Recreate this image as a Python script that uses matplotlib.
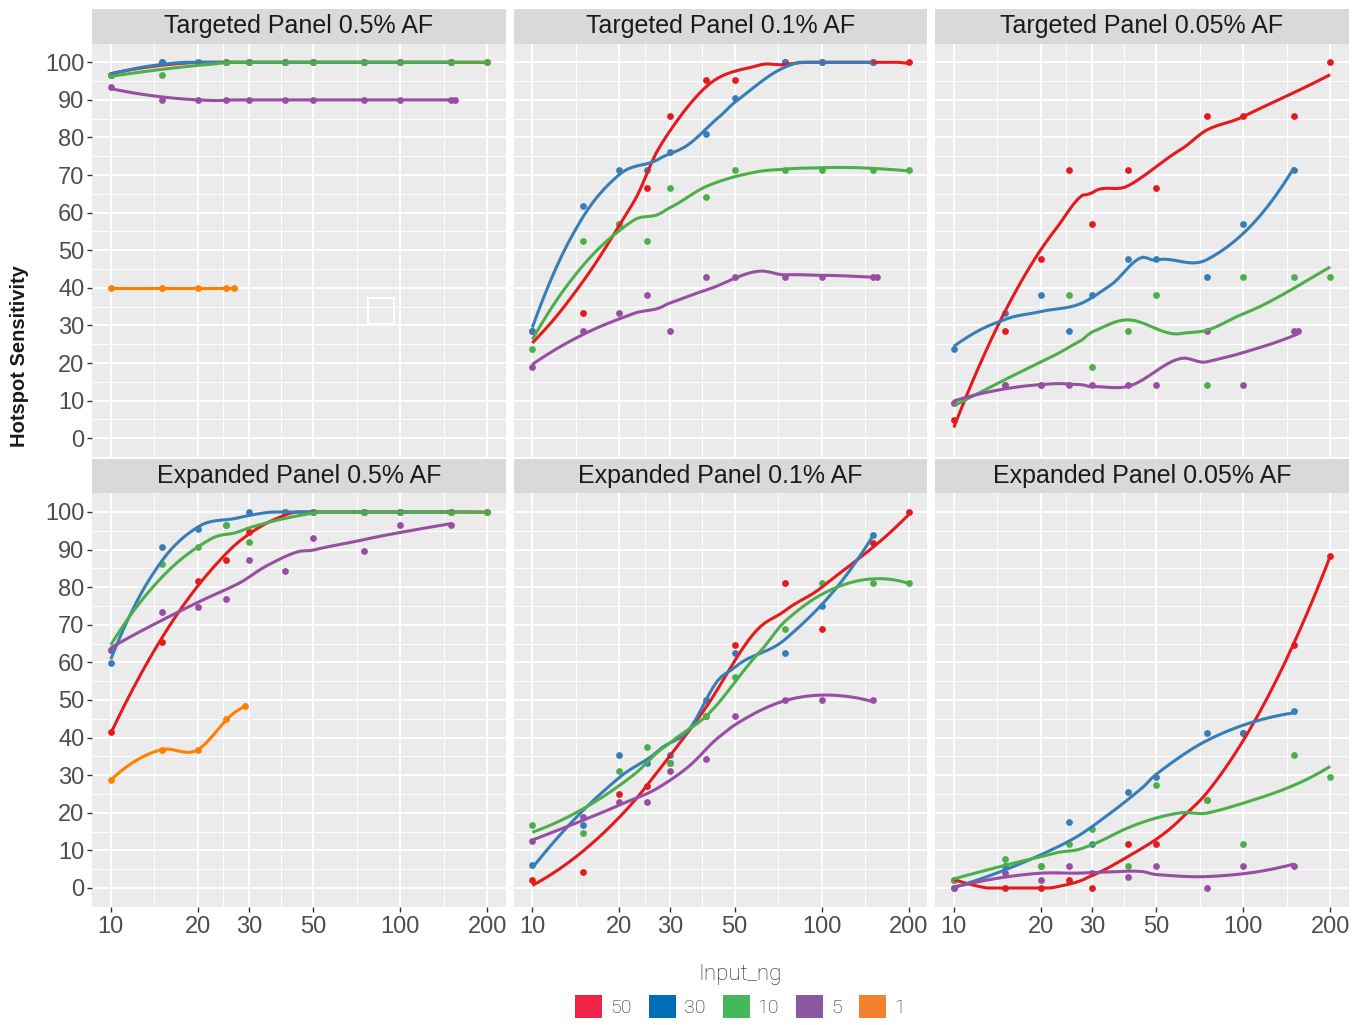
"""Hotspot sensitivity vs input coverage, faceted by panel and allele frequency."""

import matplotlib

matplotlib.use("Agg")
import matplotlib.pyplot as plt
import numpy as np
from matplotlib.patches import Patch, Rectangle
from matplotlib.ticker import FixedLocator, NullFormatter

plt.rcParams["font.family"] = ["Liberation Sans", "DejaVu Sans"]

# ---------------------------------------------------------------------------
# Data
# ---------------------------------------------------------------------------

X_ALL = [10, 15, 20, 25, 30, 40, 50, 75, 100, 150, 200]
X_30 = [10, 15, 20, 25, 30, 40, 50, 75, 100, 150]
X_5_TOP = [10, 15, 20, 25, 30, 40, 50, 75, 100, 150, 155]
X_5_BOT = [10, 15, 20, 25, 30, 40, 50, 75, 100, 150]
X_1_TGT = [10, 15, 20, 25, 26.6]
X_1_EXP = [10, 15, 20, 25, 29]

INPUTS = ["50", "30", "10", "5", "1"]
LINE_COLOURS = ["#E41A1C", "#377EB8", "#4DAF4A", "#984EA3", "#FF7F00"]
KEY_COLOURS = ["#EE2345", "#006EB7", "#43B85C", "#8D56A2", "#F4822D"]

TITLES = [
    "Targeted Panel 0.5% AF",
    "Targeted Panel 0.1% AF",
    "Targeted Panel 0.05% AF",
    "Expanded Panel 0.5% AF",
    "Expanded Panel 0.1% AF",
    "Expanded Panel 0.05% AF",
]

TGT_05 = {
    "50": [96.7, 100, 100, 100, 100, 100, 100, 100, 100, 100, 100],
    "30": [96.7, 100, 100, 100, 100, 100, 100, 100, 100, 100],
    "10": [96.7, 96.7, 100, 100, 100, 100, 100, 100, 100, 100, 100],
    "5": [93.3, 90, 90, 90, 90, 90, 90, 90, 90, 90, 90],
    "1": [40, 40, 40, 40, 40],
}
TGT_01 = {
    "50": [28.6, 33.3, 57.1, 66.7, 85.7, 95.2, 95.2, 100, 100, 100, 100],
    "30": [28.6, 61.9, 71.4, 71.4, 76.2, 81.0, 90.5, 100, 100, 100],
    "10": [23.8, 52.4, 57.1, 52.4, 66.7, 64.3, 71.4, 71.4, 71.4, 71.4, 71.4],
    "5": [19.0, 28.6, 33.3, 38.1, 28.6, 42.9, 42.9, 42.9, 42.9, 42.9, 42.9],
}
TGT_005 = {
    "50": [4.8, 28.6, 47.6, 71.4, 57.1, 71.4, 66.7, 85.7, 85.7, 85.7, 100],
    "30": [23.8, 33.3, 38.1, 28.6, 38.1, 47.6, 47.6, 42.9, 57.1, 71.4],
    "10": [9.5, 14.3, 14.3, 38.1, 19.0, 28.6, 38.1, 14.3, 42.9, 42.9, 42.9],
    "5": [9.5, 14.3, 14.3, 14.3, 14.3, 14.3, 14.3, 28.6, 14.3, 28.6, 28.6],
}
EXP_05 = {
    "50": [41.4, 65.5, 81.6, 87.3, 94.7, 100, 100, 100, 100, 100, 100],
    "30": [59.8, 90.8, 95.5, 96.5, 100, 100, 100, 100, 100, 100],
    "10": [63.3, 86.1, 90.8, 96.5, 91.9, 100, 100, 100, 100, 100, 100],
    "5": [63.3, 73.5, 74.7, 76.9, 87.3, 84.4, 93.1, 89.6, 96.5, 96.5],
    "1": [28.7, 36.8, 36.8, 44.9, 48.3],
}
EXP_01 = {
    "50": [2.1, 4.2, 25.0, 27.1, 33.3, 45.8, 64.6, 81.2, 68.8, 91.7, 100],
    "30": [6.2, 16.7, 35.4, 33.3, 35.4, 50.0, 62.5, 62.5, 75.0, 93.8],
    "10": [16.7, 14.6, 31.2, 37.5, 33.3, 45.8, 56.2, 68.8, 81.2, 81.2, 81.2],
    "5": [12.5, 18.8, 22.9, 22.9, 31.2, 34.4, 45.8, 50.0, 50.0, 50.0],
}
EXP_005 = {
    "50": [2.0, 0, 0, 2.0, 0, 11.8, 11.8, 23.5, 41.2, 64.7, 88.2],
    "30": [0, 5.9, 5.9, 17.6, 11.8, 25.5, 29.4, 41.2, 41.2, 47.1],
    "10": [2.0, 7.8, 5.9, 11.8, 15.7, 5.9, 27.5, 23.5, 11.8, 35.3, 29.4],
    "5": [0, 3.9, 2.0, 5.9, 3.9, 3.0, 5.9, 0, 5.9, 5.9],
}

PANELS = [TGT_05, TGT_01, TGT_005, EXP_05, EXP_01, EXP_005]


def x_for(series, row):
    if series in ("50", "10"):
        return X_ALL
    if series == "30":
        return X_30
    if series == "5":
        return X_5_TOP if row == 0 else X_5_BOT
    return X_1_TGT if row == 0 else X_1_EXP


# ---------------------------------------------------------------------------
# loess (local quadratic, tricube weights, kd-tree vertices + Hermite blend)
# ---------------------------------------------------------------------------

def local_fit(x, y, x0, q, degree=2):
    d = np.abs(x - x0)
    h = np.sort(d)[q - 1]
    w = np.clip(1 - (d / h) ** 3, 0, None) ** 3
    A = np.vander(x - x0, degree + 1)
    sw = np.sqrt(w)
    coef = np.linalg.lstsq(A * sw[:, None], y * sw, rcond=None)[0]
    return coef[-1], coef[-2]


def kd_vertices(xs, fc):
    verts = []

    def split(pts):
        if len(pts) <= fc:
            return
        m = (len(pts) - 1) // 2
        if len(pts) % 2 == 1:
            v = pts[m]
        else:
            v = 0.5 * (pts[m] + pts[m + 1])
        verts.append(v)
        split(pts[: m + 1])
        split(pts[m + 1:])

    split(list(xs))
    return verts


def loess(x, y, grid, span=0.75, degree=2, cell=0.2):
    x = np.asarray(x, float)
    y = np.asarray(y, float)
    n = len(x)
    q = max(int(np.floor(n * span + 1e-5)), degree + 2)
    fc = max(int(np.floor(n * span * cell)), 1)
    t = 0.005 * (x.max() - x.min())
    verts = sorted(set([x.min() - t, x.max() + t] + kd_vertices(np.sort(x), fc)))
    verts = np.array(verts)
    vals = np.array([local_fit(x, y, v, q, degree) for v in verts])
    out = np.empty_like(grid)
    for k, g in enumerate(grid):
        i = np.clip(np.searchsorted(verts, g) - 1, 0, len(verts) - 2)
        x0, x1 = verts[i], verts[i + 1]
        hh = x1 - x0
        s = (g - x0) / hh
        h00 = 2 * s**3 - 3 * s**2 + 1
        h10 = s**3 - 2 * s**2 + s
        h01 = -2 * s**3 + 3 * s**2
        h11 = s**3 - s**2
        out[k] = (h00 * vals[i, 0] + h10 * hh * vals[i, 1]
                  + h01 * vals[i + 1, 0] + h11 * hh * vals[i + 1, 1])
    # the y scale squishes out-of-range values onto 0..100
    return np.clip(out, 0, 100)


# ---------------------------------------------------------------------------
# Layout
# ---------------------------------------------------------------------------

W, H = 1362, 1025
fig = plt.figure(figsize=(W / 100, H / 100), dpi=100)

COL_LEFT = [92, 513.5, 935]
PANEL_W = 414
ROW_TOP = [43.5, 493.2]
PANEL_H = 413.6
STRIP_H = 34.5

LOGMIN, LOGMAX = np.log10(10), np.log10(200)
pad = 0.05 * (LOGMAX - LOGMIN)
XLIM = (10 ** (LOGMIN - pad), 10 ** (LOGMAX + pad))
XMAJOR = [10, 20, 30, 50, 100, 200]
XMINOR = [np.sqrt(a * b) for a, b in zip(XMAJOR[:-1], XMAJOR[1:])]

for i, (data, title) in enumerate(zip(PANELS, TITLES)):
    row, col = divmod(i, 3)
    left = COL_LEFT[col]
    top = ROW_TOP[row]
    ax = fig.add_axes([left / W, 1 - (top + PANEL_H) / H, PANEL_W / W, PANEL_H / H])
    ax.set_facecolor("#EBEBEB")
    for s in ax.spines.values():
        s.set_visible(False)

    ax.set_xscale("log")
    ax.set_xlim(*XLIM)
    ax.set_ylim(-5, 105)
    ax.xaxis.set_major_locator(FixedLocator(XMAJOR))
    ax.xaxis.set_minor_locator(FixedLocator(XMINOR))
    ax.xaxis.set_minor_formatter(NullFormatter())
    ax.set_yticks(np.arange(0, 101, 10))
    ax.yaxis.set_minor_locator(FixedLocator(np.arange(5, 100, 10)))
    ax.grid(which="major", color="white", linewidth=1.4)
    ax.grid(which="minor", color="white", linewidth=0.7)
    ax.set_axisbelow(True)
    ax.tick_params(which="minor", length=0)
    ax.tick_params(which="major", length=3.5, width=1, color="#333333",
                   labelcolor="#4D4D4D", labelsize=17)

    if row == 1:
        ax.set_xticklabels([str(v) for v in XMAJOR])
        ax.tick_params(axis="x", pad=3)
    else:
        ax.tick_params(axis="x", length=0, labelbottom=False)
    if col == 0:
        ax.set_yticklabels([str(v) for v in range(0, 101, 10)])
        ax.tick_params(axis="y", pad=2)
    else:
        ax.tick_params(axis="y", length=0, labelleft=False)

    # points first, smooth lines on top (as geom_point + geom_smooth)
    for key, colour in zip(INPUTS, LINE_COLOURS):
        if key not in data:
            continue
        ax.scatter(x_for(key, row), data[key], s=24, color=colour,
                   linewidths=0, zorder=3)
    for key, colour in zip(INPUTS, LINE_COLOURS):
        if key not in data:
            continue
        lx = np.log10(x_for(key, row))
        grid = np.linspace(lx.min(), lx.max(), 80)
        ax.plot(10 ** grid, loess(lx, data[key], grid), color=colour,
                linewidth=2.2, zorder=4, solid_capstyle="butt")

    if i == 0:
        ax.add_patch(Rectangle((0.666, 0.323), 0.063, 0.062, transform=ax.transAxes,
                               fill=False, edgecolor="white", linewidth=1.5, zorder=2))

    # facet strip
    sax = fig.add_axes([left / W, 1 - top / H, PANEL_W / W, STRIP_H / H])
    sax.set_facecolor("#D9D9D9")
    sax.set_xticks([])
    sax.set_yticks([])
    for s in sax.spines.values():
        s.set_visible(False)
    sax.text(0.5, 0.5, title, ha="center", va="center", fontsize=18,
             color="#1A1A1A", transform=sax.transAxes)

fig.text(20 / W, 1 - 356 / H, "Hotspot Sensitivity", rotation=90, ha="center",
         va="center", fontsize=14.5, fontweight="bold", color="#1A1A1A")

handles = [Patch(facecolor=c, edgecolor="none") for c in KEY_COLOURS]
leg = fig.legend(handles, INPUTS, loc="center", bbox_to_anchor=(740 / W, 1 - 991 / H),
                 ncol=5, frameon=False, title="Input_ng",
                 prop={"family": "Roboto", "weight": "light", "size": 14},
                 handlelength=1.39, handleheight=1.39, handletextpad=0.4,
                 columnspacing=0.9, borderpad=0)
leg.get_title().set_fontfamily("Roboto")
leg.get_title().set_fontweight("light")
leg.get_title().set_fontsize(16)
leg.get_title().set_color("#222222")
for t in leg.get_texts():
    t.set_color("#222222")

fig.savefig("out.png", dpi=100)
